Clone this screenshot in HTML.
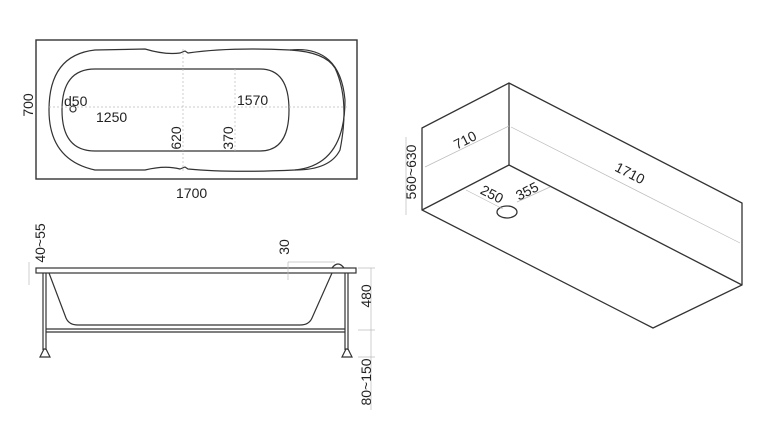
<!DOCTYPE html>
<html><head><style>body{margin:0;background:#fff}svg{display:block}text{font-family:"Liberation Sans",sans-serif;fill:#222;font-size:14px}.c{text-anchor:middle;dominant-baseline:central}</style></head><body>
<svg width="765" height="448" viewBox="0 0 765 448" xmlns="http://www.w3.org/2000/svg">
<g fill="none" stroke="#333" stroke-width="1.2">
<rect x="36" y="40" width="321" height="139" stroke-width="1.4"/>
<path d="M145,49 Q165,55 180,53 L185,51 L188,53 Q230,47 290,50 Q325,52 335,68 Q350,100 340,150 Q330,170 295,170 Q230,173 188,169 L185,167 L180,169 Q165,165 145,170 L95,170 Q49,160 49,110 Q49,55 95,50 Z"/>
<path d="M290,50 Q340,45 345,100 Q345,165 295,170"/>
<path d="M95,69 L260,69 Q289,69 289,110 Q289,151 260,151 L95,151 Q62,151 62,110 Q62,69 95,69 Z"/>
<circle cx="73" cy="109" r="3"/>
</g>
<g stroke="#bbb" stroke-width="0.7" stroke-dasharray="2,2">
<line x1="49" y1="107" x2="347" y2="107"/><line x1="183" y1="49" x2="183" y2="171"/><line x1="235" y1="69" x2="235" y2="151"/>
</g>
<text class="c" transform="translate(28,105) rotate(-90)">700</text>
<text x="64" y="106">d50</text>
<text x="96" y="122">1250</text>
<text x="237" y="105">1570</text>
<text class="c" transform="translate(176,138) rotate(-90)">620</text>
<text class="c" transform="translate(228,138) rotate(-90)">370</text>
<text x="176" y="198">1700</text>

<g fill="none" stroke="#333" stroke-width="1.2">
<rect x="36" y="268" width="320" height="5"/>
<path d="M49,273 L66,318 Q69,325 78,325 L300,325 Q309,325 312,318 L332,273"/>
<path d="M332,268 Q338,260 344,268"/>
<line x1="43" y1="273" x2="43" y2="350"/><line x1="46" y1="273" x2="46" y2="350"/>
<line x1="345" y1="273" x2="345" y2="350"/><line x1="348" y1="273" x2="348" y2="350"/>
<line x1="46" y1="329" x2="345" y2="329"/><line x1="46" y1="332" x2="345" y2="332"/>
<path d="M40,357 L44,349 L46,349 L50,357 Z"/><path d="M342,357 L346,349 L348,349 L352,357 Z"/>
</g>
<g stroke="#bbb" stroke-width="0.7"><line x1="288" y1="262" x2="288" y2="280"/><line x1="288" y1="262" x2="335" y2="262"/><line x1="29" y1="262" x2="29" y2="285"/><line x1="358" y1="268" x2="375" y2="268"/><line x1="358" y1="330" x2="375" y2="330"/><line x1="358" y1="357" x2="375" y2="357"/><line x1="371" y1="268" x2="371" y2="410"/></g>
<text class="c" transform="translate(40,243) rotate(-90)">40~55</text>
<text class="c" transform="translate(284,247) rotate(-90)">30</text>
<text class="c" transform="translate(366,296) rotate(-90)">480</text>
<text class="c" transform="translate(366,382) rotate(-90)">80~150</text>

<g fill="none" stroke="#333" stroke-width="1.3">
<path d="M422,128 L509,83 L742,203 L742,285 L653,328 L422,210 Z"/>
<line x1="509" y1="83" x2="509" y2="165"/><line x1="422" y1="210" x2="509" y2="165"/><line x1="509" y1="165" x2="742" y2="285"/>
<ellipse cx="507" cy="212" rx="10" ry="6"/>
</g>
<g stroke="#bbb" stroke-width="0.7"><line x1="425" y1="167" x2="509" y2="126"/><line x1="511" y1="127" x2="740" y2="243"/><line x1="406" y1="137" x2="406" y2="215"/><line x1="466" y1="190" x2="503" y2="209"/><line x1="517" y1="202" x2="550" y2="187"/></g>
<text class="c" transform="translate(465,140) rotate(-27)">710</text>
<text class="c" transform="translate(630,173) rotate(27)">1710</text>
<text class="c" transform="translate(411,172) rotate(-90)">560~630</text>
<text class="c" transform="translate(492,194) rotate(27)">250</text>
<text class="c" transform="translate(527,191) rotate(-27)">355</text>
</svg>
</body></html>
